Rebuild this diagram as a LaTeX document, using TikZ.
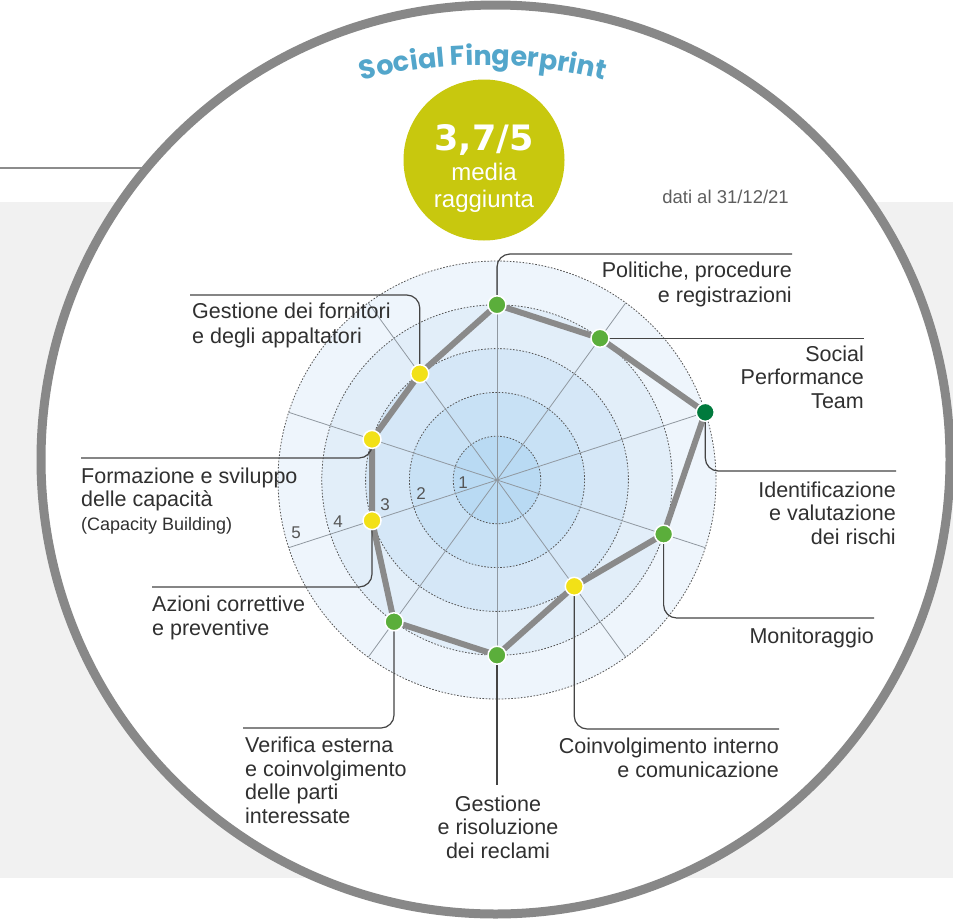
\documentclass[tikz,border=0pt]{standalone}
\usepackage{fontspec}
\setmainfont{Liberation Sans}
\newfontfamily\titlefont{Poppins}
\newfontfamily\bigfont{DejaVu Sans}
\usetikzlibrary{decorations.text,calc}
\definecolor{bandc}{HTML}{F1F1F1}
\definecolor{ringc}{HTML}{888888}
\definecolor{linec}{HTML}{8C8C8C}
\definecolor{leadc}{HTML}{444444}
\definecolor{labc}{HTML}{303030}
\definecolor{polyc}{HTML}{8A8A8A}
\definecolor{spokec}{HTML}{9098A0}
\definecolor{dashc}{HTML}{555555}
\definecolor{rA}{HTML}{EEF5FC}
\definecolor{rB}{HTML}{E2EEF9}
\definecolor{rC}{HTML}{D5E7F7}
\definecolor{rD}{HTML}{C8E1F5}
\definecolor{rE}{HTML}{B9DAF3}
\definecolor{gr}{HTML}{5BAE3B}
\definecolor{dg}{HTML}{007A3D}
\definecolor{ye}{HTML}{F2E117}
\definecolor{avgc}{HTML}{C8C80E}
\definecolor{titlec}{HTML}{53A6CB}
\definecolor{datec}{HTML}{5E5E5E}
\begin{document}
\begin{tikzpicture}[x=1pt,y=-1pt,
  leader/.style={draw=leadc, line width=1.2pt, rounded corners=13pt},
  lab/.style={text=labc, font=\fontsize{21.5}{23.5}\selectfont, inner sep=0pt},
  labw/.style={text=labc, font=\fontsize{21.5}{25}\selectfont, inner sep=0pt},
  numlab/.style={text=dashc, font=\fontsize{17}{17}\selectfont, inner sep=0pt},
  dotbase/.style={circle, draw=white, line width=1.5pt, minimum size=18pt, inner sep=0pt},
  dotg/.style={dotbase, fill=gr},
  dotd/.style={dotbase, fill=dg},
  doty/.style={dotbase, fill=ye},
  ringline/.style={draw=dashc, line width=0.8pt, dash pattern=on 1.6pt off 1.6pt},
  spoke/.style={draw=spokec, line width=0.8pt}]
\useasboundingbox (0,0) rectangle (953,919);
% background
\fill[bandc] (0,202) rectangle (953,878);
\draw[linec, line width=1.2pt] (0,168) -- (160,168);
\coordinate (oc) at (495.5,459.5);
\fill[white] (oc) circle[radius=454.5pt];
\draw[ringc, line width=9pt] (oc) circle[radius=454.5pt];
% title
\begin{scope}[y=1pt]
\path[decorate, decoration={text along path, text align=center,
  text color=titlec,
  text={|\titlefont\bfseries\fontsize{27}{27}\selectfont|Social Fingerprint}}]
  (483,-555) ++(108:490) arc[start angle=108, end angle=72, radius=490pt];
\end{scope}
% average
\node[circle, fill=avgc, minimum size=161pt, inner sep=0pt] (avg) at (484,160) {};
\node[anchor=base, text=white, inner sep=0pt, font=\bigfont\bfseries\fontsize{35}{35}\selectfont] (avgnum) at (484,150) {3,7/5};
\node[anchor=base, text=white, inner sep=0pt, align=center, font=\fontsize{24}{27}\selectfont] (avgtxt) at (484,207) {media\\raggiunta};
\node[anchor=base east, text=datec, inner sep=0pt, font=\fontsize{18.5}{20}\selectfont] (date) at (789,203) {dati al 31/12/21};
% radar
\coordinate (c) at (497,480);
\fill[rA] (c) circle[radius=219pt];
\fill[rB] (c) circle[radius=175.2pt];
\fill[rC] (c) circle[radius=131.4pt];
\fill[rD] (c) circle[radius=87.6pt];
\fill[rE] (c) circle[radius=43.8pt];
\foreach \r in {43.8,87.6,131.4,175.2,219}
  \draw[ringline] (c) circle[radius=\r pt];
\foreach \a in {90,54,18,-18,-54}
  \draw[spoke] ($(c)+(\a:219)$) -- ($(c)+(\a+180:219)$);
\node[numlab] (n1) at (463,483) {1};
\node[numlab] (n2) at (421,494) {2};
\node[numlab] (n3) at (385,505) {3};
\node[numlab] (n4) at (338,522) {4};
\node[numlab] (n5) at (296,533) {5};
% data points (screen angles 90,54,18,-18,...)
\coordinate (q1) at ($(c)+(-90:175.2)$);
\coordinate (q2) at ($(c)+(-54:175.2)$);
\coordinate (q3) at ($(c)+(-18:219)$);
\coordinate (q4) at ($(c)+(18:175.2)$);
\coordinate (q5) at ($(c)+(54:131.4)$);
\coordinate (q6) at ($(c)+(90:175.2)$);
\coordinate (q7) at ($(c)+(126:175.2)$);
\coordinate (q8) at ($(c)+(162:131.4)$);
\coordinate (q9) at ($(c)+(-162:131.4)$);
\coordinate (q10) at ($(c)+(-126:131.4)$);
\draw[polyc, line width=6pt, line join=round] (q1) -- (q2) -- (q3) -- (q4) -- (q5) -- (q6) -- (q7) -- (q8) -- (q9) -- (q10) -- cycle;
% leader ends
\coordinate (e1) at (792,254);
\coordinate (e2) at (864,338);
\coordinate (e3) at (896,471);
\coordinate (e4) at (874,618);
\coordinate (e5) at (779,729);
\coordinate (e6) at (497,785);
\coordinate (e7) at (243,728);
\coordinate (e8) at (152,587);
\coordinate (e9) at (81,458);
\coordinate (e10) at (190,295);
\draw[leader] (q1) |- (e1);
\draw[leader] (q2) -- (q2 -| e2);
\draw[leader] (q3) |- (e3);
\draw[leader] (q4) |- (e4);
\draw[leader] (q5) |- (e5);
\draw[leader] (q6) -- (q6 |- e6);
\draw[leader] (q7) |- (e7);
\draw[leader] (q8) |- (e8);
\draw[leader] (q9) |- (e9);
\draw[leader] (q10) |- (e10);
% dots
\node[dotg] (p1) at (q1) {};
\node[dotg] (p2) at (q2) {};
\node[dotd] (p3) at (q3) {};
\node[dotg] (p4) at (q4) {};
\node[doty] (p5) at (q5) {};
\node[dotg] (p6) at (q6) {};
\node[dotg] (p7) at (q7) {};
\node[doty] (p8) at (q8) {};
\node[doty] (p9) at (q9) {};
\node[doty] (p10) at (q10) {};
% labels (anchor = baseline of the last line)
\node[labw, anchor=base east, align=right] (t1) at (792,302) {Politiche, procedure\\e registrazioni};
\node[lab, anchor=base east, align=right] (t2) at (864,408) {Social\\Performance\\Team};
\node[lab, anchor=base east, align=right] (t3) at (896,544) {Identificazione\\e valutazione\\dei rischi};
\node[lab, anchor=base east, align=right] (t4) at (874,643) {Monitoraggio};
\node[lab, anchor=base east, align=right] (t5) at (779,777) {Coinvolgimento interno\\e comunicazione};
\node[lab, anchor=base, align=center] (t6) at (498,858) {Gestione\\e risoluzione\\dei reclami};
\node[lab, anchor=base west, align=left] (t7) at (245,823) {Verifica esterna\\e coinvolgimento\\delle parti\\interessate};
\node[lab, anchor=base west, align=left] (t8) at (152,635) {Azioni correttive\\e preventive};
\node[lab, anchor=base west, align=left] (t9) at (81,530) {Formazione e sviluppo\\delle capacità\\{\fontsize{18}{23}\selectfont (Capacity Building)}};
\node[labw, anchor=base west, align=left] (t10) at (192,343) {Gestione dei fornitori\\e degli appaltatori};
\end{tikzpicture}
\end{document}
